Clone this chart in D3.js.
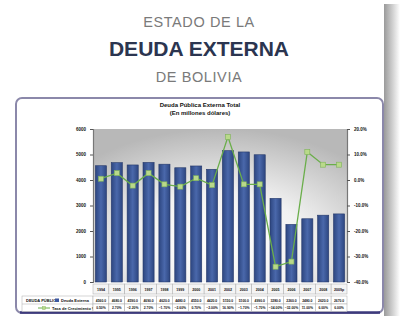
<!DOCTYPE html>
<html><head><meta charset="utf-8">
<script src="https://cdn.jsdelivr.net/npm/d3@7"></script>
<style>html,body{margin:0;padding:0;background:#fff;}svg{display:block;font-family:"Liberation Sans",Arial,sans-serif;}</style>
</head><body>
<script>
const years = ["1994","1995","1996","1997","1998","1999","2000","2001","2002","2003","2004","2005","2006","2007","2008","2009p"];
const debt = [4560, 4680, 4590, 4690, 4620, 4480, 4550, 4420, 5150, 5100, 4990, 3280, 2260, 2480, 2620, 2670];
const growth = [0.5, 2.7, -2.2, 2.7, -1.7, -2.6, 0.7, -2.0, 16.9, -1.7, -1.7, -34.0, -32.0, 11.0, 6.0, 6.0];
const leftTicks = [0, 1000, 2000, 3000, 4000, 5000, 6000];
const rightTicks = [-40, -30, -20, -10, 0, 10, 20];

const W = 400, H = 326;
const svg = d3.select("body").append("svg").attr("width", W).attr("height", H);
const defs = svg.append("defs");

// shadow on right
const sh = defs.append("linearGradient").attr("id","sh").attr("x1","0").attr("x2","1");
sh.append("stop").attr("offset","0").attr("stop-color","#9a9a9a");
sh.append("stop").attr("offset","1").attr("stop-color","#ffffff");
svg.append("rect").attr("x",384).attr("y",4).attr("width",16).attr("height",312).attr("fill","url(#sh)");

// titles
svg.append("text").attr("x",199).attr("y",27).attr("text-anchor","middle").attr("font-size",14.5).attr("letter-spacing",0.6).attr("fill","#7a7a7a").text("ESTADO DE LA");
svg.append("text").attr("x",199).attr("y",56).attr("text-anchor","middle").attr("font-size",21).attr("font-weight","bold").attr("fill","#2b3550").text("DEUDA EXTERNA");
svg.append("text").attr("x",199).attr("y",82).attr("text-anchor","middle").attr("font-size",14.5).attr("letter-spacing",0.6).attr("fill","#7a7a7a").text("DE BOLIVIA");

// panel
svg.append("rect").attr("x",16).attr("y",98).attr("width",367).attr("height",215).attr("rx",6)
  .attr("fill","#fff").attr("stroke","#8b88aa").attr("stroke-width",2);
svg.append("line").attr("x1",20).attr("x2",380).attr("y1",312.5).attr("y2",312.5).attr("stroke","#3d3a7c").attr("stroke-width",2.5);

// chart
const m = {l:93, r:347, t:129, b:282};
const x = d3.scaleBand().domain(years).range([m.l, m.r]).paddingInner(0.3).paddingOuter(0.15);
const y = d3.scaleLinear().domain([0,6000]).range([m.b, m.t]);
const y2 = d3.scaleLinear().domain([-40,20]).range([m.b, m.t]);

const bg = defs.append("radialGradient").attr("id","bg").attr("cx","0.5").attr("cy","0.75").attr("r","0.75");
bg.append("stop").attr("offset","0").attr("stop-color","#ffffff");
bg.append("stop").attr("offset","0.45").attr("stop-color","#f2f2f2");
bg.append("stop").attr("offset","1").attr("stop-color","#b8b8b8");
svg.append("rect").attr("x",m.l).attr("y",m.t).attr("width",m.r-m.l).attr("height",m.b-m.t).attr("fill","url(#bg)");

// chart title
svg.append("text").attr("x",200).attr("y",107).attr("text-anchor","middle").attr("font-size",6).attr("font-weight","bold").attr("fill","#111").text("Deuda Pública Externa Total");
svg.append("text").attr("x",200).attr("y",115).attr("text-anchor","middle").attr("font-size",6).attr("font-weight","bold").attr("fill","#111").text("(En millones dólares)");

const bgr = defs.append("linearGradient").attr("id","bar").attr("x1","0").attr("x2","1");
bgr.append("stop").attr("offset","0").attr("stop-color","#2d4680");
bgr.append("stop").attr("offset","0.5").attr("stop-color","#4a68ab");
bgr.append("stop").attr("offset","1").attr("stop-color","#2d4680");

svg.selectAll("rect.bar").data(debt).join("rect").attr("class","bar")
  .attr("x",(d,i)=>x(years[i])).attr("width",x.bandwidth())
  .attr("y",d=>y(d)).attr("height",d=>m.b-y(d))
  .attr("fill","url(#bar)").attr("stroke","#26396a").attr("stroke-width",0.6);

// axes
const ax = svg.append("g").attr("transform",`translate(${m.l},0)`)
  .call(d3.axisLeft(y).tickValues(leftTicks).tickSize(3).tickFormat(d3.format("d")));
const ax2 = svg.append("g").attr("transform",`translate(${m.r},0)`)
  .call(d3.axisRight(y2).tickValues(rightTicks).tickSize(3).tickFormat(d=>d.toFixed(1)+"%"));
[ax,ax2].forEach(a=>{
  a.select(".domain").attr("stroke","#777").attr("stroke-width",1.2);
  a.selectAll(".tick line").attr("stroke","#555");
  a.selectAll("text").attr("font-size",4.5).attr("font-weight","bold").attr("fill","#111").attr("font-family","Liberation Sans, Arial");
});
ax.selectAll("text").attr("x",-7);
ax2.selectAll("text").attr("x",7);

// line
const cx = (i)=>x(years[i])+x.bandwidth()/2;
const line = d3.line().x((d,i)=>cx(i)).y(d=>y2(d));
svg.append("path").datum(growth).attr("d",line).attr("fill","none").attr("stroke","#6aae4a").attr("stroke-width",1.3);
svg.selectAll("rect.mk").data(growth).join("rect").attr("class","mk")
  .attr("x",(d,i)=>cx(i)-2.5).attr("y",d=>y2(d)-2.5).attr("width",5).attr("height",5)
  .attr("fill","#b9d98a").attr("stroke","#7fb35a").attr("stroke-width",0.6);

// data table
const step = x.step();
const colX = i => m.l + i*step;
const rows = [{y:284,h:10},{y:296,h:8},{y:304,h:7.5}];
const tbl = svg.append("g");
// label cells
tbl.append("rect").attr("x",22).attr("y",rows[1].y).attr("width",m.l-22).attr("height",rows[1].h+rows[2].h).attr("fill","#fff").attr("stroke","#aaa").attr("stroke-width",0.5);
tbl.append("line").attr("x1",22).attr("x2",m.l).attr("y1",rows[2].y).attr("y2",rows[2].y).attr("stroke","#aaa").attr("stroke-width",0.5);
tbl.append("text").attr("x",26).attr("y",rows[1].y+5.5).attr("font-size",4).attr("font-weight","bold").attr("fill","#111").text("DEUDA PÚBLICA");
tbl.append("rect").attr("x",55).attr("y",rows[1].y+2.5).attr("width",4).attr("height",3.5).attr("fill","#3b57a0");
tbl.append("text").attr("x",61).attr("y",rows[1].y+5.5).attr("font-size",4).attr("font-weight","bold").attr("fill","#111").text("Deuda Externa");
tbl.append("line").attr("x1",38).attr("x2",50).attr("y1",rows[2].y+4).attr("y2",rows[2].y+4).attr("stroke","#6aae4a").attr("stroke-width",1);
tbl.append("rect").attr("x",42.5).attr("y",rows[2].y+2.5).attr("width",3).attr("height",3).attr("fill","#b9d98a").attr("stroke","#7fb35a").attr("stroke-width",0.4);
tbl.append("text").attr("x",52).attr("y",rows[2].y+5.5).attr("font-size",4).attr("font-weight","bold").attr("fill","#111").text("Tasa de Crecimiento %");

years.forEach((yr,i)=>{
  rows.forEach((r,j)=>{
    tbl.append("rect").attr("x",colX(i)).attr("y",r.y).attr("width",step).attr("height",r.h)
      .attr("fill", j===0 ? "#f4f4f4" : "#fff").attr("stroke","#aaa").attr("stroke-width",0.5);
  });
  tbl.append("text").attr("x",colX(i)+step/2).attr("y",rows[0].y+6.5).attr("text-anchor","middle").attr("font-size",3.6).attr("font-weight","bold").attr("fill","#111").text(yr);
  tbl.append("text").attr("x",colX(i)+step/2).attr("y",rows[1].y+5.5).attr("text-anchor","middle").attr("font-size",3.4).attr("font-weight","bold").attr("fill","#111").text(d3.format(".1f")(debt[i]));
  tbl.append("text").attr("x",colX(i)+step/2).attr("y",rows[2].y+5.3).attr("text-anchor","middle").attr("font-size",3.4).attr("font-weight","bold").attr("fill","#111").text(d3.format(".2f")(growth[i])+"%");
});
</script>
</body></html>
